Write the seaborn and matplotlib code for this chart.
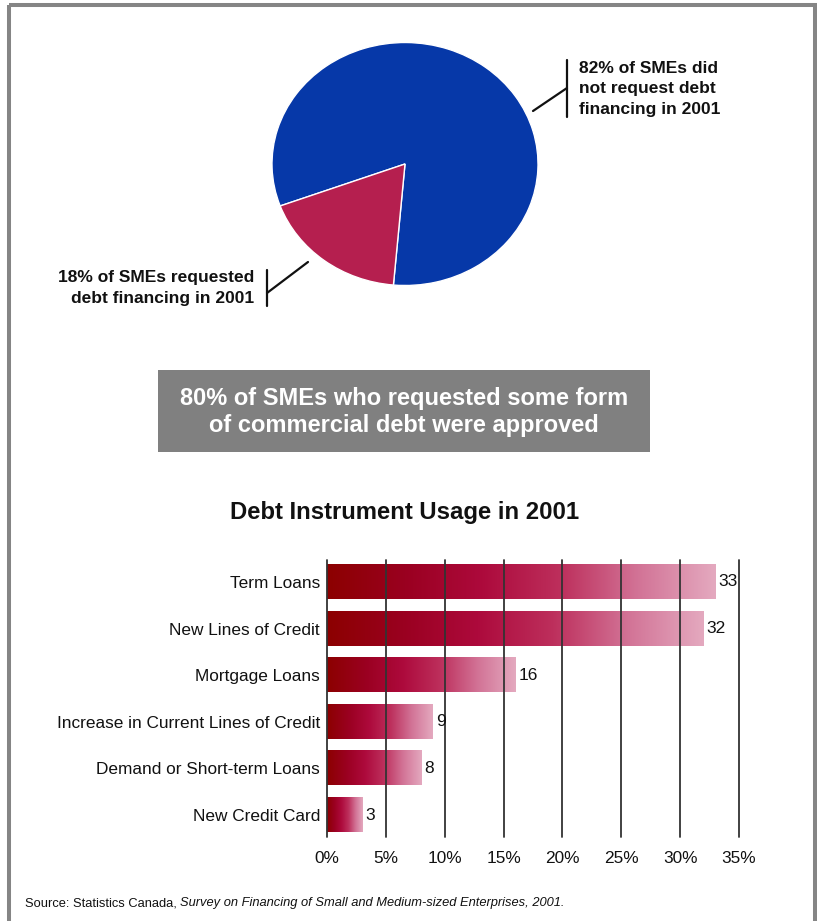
import numpy as np
import pandas as pd
import matplotlib
matplotlib.use("Agg")
import matplotlib.pyplot as plt
from matplotlib import font_manager
from matplotlib.colors import LinearSegmentedColormap
from matplotlib.patches import Rectangle
import seaborn as sns

# Share of SMEs by debt-financing request in 2001 (percent)
request_groups = ["Did not request debt financing", "Requested debt financing"]
request_shares = [82, 18]

# Debt instrument usage in 2001 (percent of requesting SMEs)
instruments = [
    "Term Loans",
    "New Lines of Credit",
    "Mortgage Loans",
    "Increase in Current Lines of Credit",
    "Demand or Short-term Loans",
    "New Credit Card",
]
usage = [33, 32, 16, 9, 8, 3]

x_ticks = [0, 5, 10, 15, 20, 25, 30, 35]
x_tick_labels = ["0%", "5%", "10%", "15%", "20%", "25%", "30%", "35%"]

W, H = 817, 921
sns.set_theme(style="white")
installed = {f.name for f in font_manager.fontManager.ttflist}
family = [f for f in ["Liberation Sans Narrow", "Liberation Sans", "DejaVu Sans"] if f in installed]
plt.rcParams["font.family"] = family

fig = plt.figure(figsize=(W / 100, H / 100), dpi=100)
fig.patch.set_facecolor("white")


def rect(x0, y0, x1, y1):
    """Axes rectangle from pixel edges measured from the top-left corner."""
    return [x0 / W, 1 - y1 / H, (x1 - x0) / W, (y1 - y0) / H]


# Full-figure layer in pixel units for the frame, callouts and notes
ov = fig.add_axes([0, 0, 1, 1], zorder=0)
ov.set_xlim(0, W)
ov.set_ylim(H, 0)
ov.axis("off")

# Outer frame
ov.add_patch(Rectangle((9, 5.5), 806, 940, fill=False, edgecolor="#858585",
                       linewidth=2.9, clip_on=False))

# ---- Pie: who requested debt financing ----
pax = fig.add_axes(rect(272, 42.5, 538, 285.5), zorder=2)
pax.pie(request_shares, colors=["#0638a8", "#b51f4f"], startangle=265,
        counterclock=True, wedgeprops=dict(edgecolor="white", linewidth=1.0))
pax.set_aspect("auto")
pax.set_xlim(-1, 1)
pax.set_ylim(-1, 1)

callout_kw = dict(fontsize=12.5, fontweight="bold", color="#111111", linespacing=1.42)
ov.text(579, 89, f"{request_shares[0]}% of SMEs did\nnot request debt\nfinancing in 2001",
        ha="left", va="center", **callout_kw)
ov.plot([567, 567], [60, 117], color="#111111", lw=1.6)
ov.plot([533, 567], [111, 88], color="#111111", lw=1.6)

ov.text(254, 288, f"{request_shares[1]}% of SMEs requested\ndebt financing in 2001",
        ha="right", va="center", **callout_kw)
ov.plot([267, 267], [270, 306], color="#111111", lw=1.6)
ov.plot([267, 308], [293, 262], color="#111111", lw=1.6)

# ---- Highlight box ----
ov.add_patch(Rectangle((158, 370), 492, 82, facecolor="#808080", edgecolor="none"))
ov.text(404, 412, "80% of SMEs who requested some form\nof commercial debt were approved",
        ha="center", va="center", color="white", fontsize=17, fontweight="bold",
        linespacing=1.2)

# ---- Bar chart: debt instrument usage ----
ov.text(405, 512, "Debt Instrument Usage in 2001", ha="center", va="center",
        fontsize=17.2, fontweight="bold", color="#111111")

bax = fig.add_axes(rect(327, 560, 739, 837), zorder=2)
df = pd.DataFrame({"instrument": instruments, "usage": usage})
sns.barplot(data=df, x="usage", y="instrument", order=instruments, orient="h",
            width=0.73, color="white", ax=bax)

bar_cmap = LinearSegmentedColormap.from_list(
    "bar_fade", ["#8c0000", "#9a0020", "#ad0a3c", "#bd2f5c", "#d27396", "#e4a9bf"])
gradient = np.linspace(0, 1, 256).reshape(1, -1)
for patch in list(bax.patches):
    x0, y0 = patch.get_x(), patch.get_y()
    w, h = patch.get_width(), patch.get_height()
    patch.set_facecolor("none")
    patch.set_edgecolor("none")
    bax.imshow(gradient, cmap=bar_cmap, aspect="auto", interpolation="bicubic",
               extent=(x0, x0 + w, y0 + h, y0), zorder=1)

for i, v in enumerate(usage):
    bax.text(v + 0.25, i, f"{v}", ha="left", va="center", fontsize=12.5, color="#111111",
             zorder=5)

bax.set_xlim(0, 35)
bax.set_ylim(len(instruments) - 0.53, -0.47)
for t in x_ticks:
    bax.axvline(t, color="#333333", lw=1.3, zorder=4, clip_on=False)
bax.set_xticks(x_ticks)
bax.set_xticklabels(x_tick_labels)
bax.set_yticks(range(len(instruments)))
bax.set_yticklabels(instruments)
bax.tick_params(axis="both", length=0, labelsize=12.4, colors="#111111")
bax.tick_params(axis="x", pad=10)
bax.tick_params(axis="y", pad=5)
bax.set_xlabel("")
bax.set_ylabel("")
bax.grid(False)
for s in bax.spines.values():
    s.set_visible(False)
bax.set_facecolor("none")

# ---- Source note ----
src_a = ov.text(25, 903, "Source: Statistics Canada, ", ha="left", va="center",
                fontsize=9.3, color="#111111")
fig.canvas.draw()
bb = src_a.get_window_extent()
ov.text(25 + bb.width, 903,
        "Survey on Financing of Small and Medium-sized Enterprises, 2001.",
        ha="left", va="center", fontsize=9.3, style="italic", color="#111111")

fig.savefig("out.png", dpi=100, facecolor="white")
